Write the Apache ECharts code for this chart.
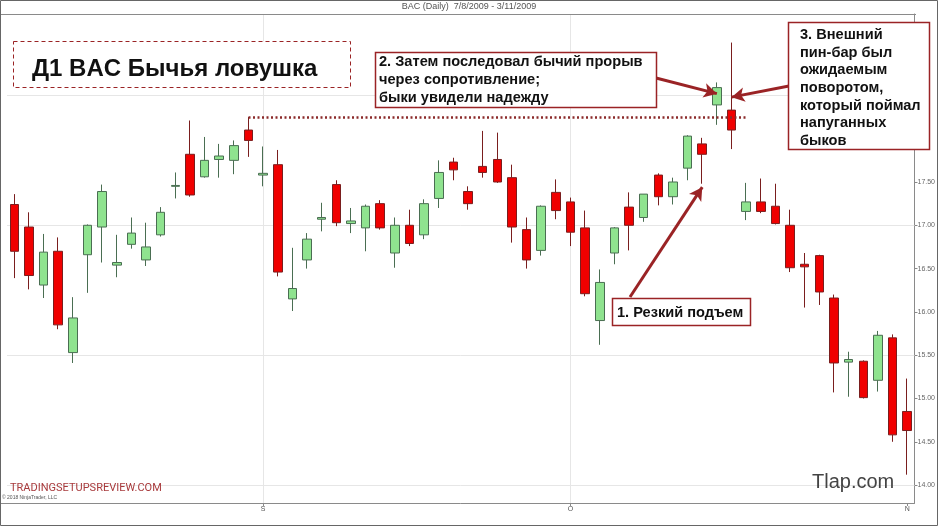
<!DOCTYPE html>
<html>
<head>
<meta charset="utf-8">
<script src="https://cdn.jsdelivr.net/npm/echarts@6/dist/echarts.min.js"></script>
<style>
html,body{margin:0;padding:0;background:#fff;}
#chart{width:938px;height:526px;}
</style>
</head>
<body>
<div id="chart"></div>
<script>
// ---- data ----
const openP  = [17.24,16.98,16.31,16.70,15.53,16.66,16.98,16.54,16.78,16.60,16.89,17.45,17.82,17.56,17.76,17.75,18.10,17.58,17.70,16.15,16.60,17.07,17.47,17.02,16.97,17.25,16.68,17.00,16.89,17.31,17.73,17.39,17.68,17.76,17.55,16.95,16.71,17.38,17.27,16.97,15.90,16.68,17.21,17.09,17.58,17.33,17.66,17.94,18.39,18.33,17.16,17.27,17.22,17.00,16.55,16.65,16.16,15.42,15.43,15.21,15.70,14.85];
const highP  = [17.36,17.15,16.90,16.86,16.17,17.01,17.47,16.89,17.09,17.03,17.21,17.61,18.21,18.02,17.94,17.98,18.25,17.91,17.87,16.74,16.91,17.26,17.52,17.20,17.24,17.29,17.09,17.18,17.30,17.75,17.78,17.45,18.09,18.07,17.70,17.09,17.23,17.53,17.32,17.17,16.49,16.98,17.38,17.36,17.60,17.55,18.04,18.01,18.65,19.11,17.49,17.54,17.48,17.18,16.68,16.66,16.20,15.54,15.44,15.78,15.74,15.23];
const lowP   = [16.39,16.26,16.16,15.80,15.41,16.22,16.57,16.40,16.73,16.53,16.87,17.31,17.33,17.55,17.55,17.59,17.79,17.45,16.41,16.01,16.50,16.93,16.99,16.91,16.70,16.95,16.51,16.76,16.84,17.20,17.52,17.18,17.55,17.49,16.80,16.50,16.65,17.07,16.76,16.18,15.62,16.55,16.71,17.04,17.23,17.24,17.52,17.48,18.16,17.88,17.06,17.14,17.01,16.46,16.05,16.08,15.07,15.02,15.00,15.08,14.50,14.12];
const closeP = [16.70,16.42,16.69,15.85,15.93,17.00,17.39,16.57,16.91,16.75,17.15,17.46,17.35,17.75,17.80,17.92,17.98,17.60,16.46,16.27,16.84,17.09,17.03,17.05,17.22,16.97,17.00,16.79,17.25,17.61,17.64,17.25,17.61,17.50,16.98,16.60,17.22,17.17,16.92,16.21,16.34,16.97,17.00,17.36,17.33,17.50,18.03,17.82,18.59,18.10,17.27,17.16,17.02,16.51,16.52,16.23,15.41,15.45,15.01,15.73,14.58,14.63];
const categories = openP.map((_, i) => String(i));
const monthLabels = {17: 'S', 38: 'O', 61: 'N'};
const yTicks = [14.0, 14.5, 15.0, 15.5, 16.0, 16.5, 17.0, 17.5];
const gridLevels = [14.0, 15.5, 17.0, 18.5];
const resistance = {from: 16, to: 50, price: 18.25};
const chartTitle = 'BAC (Daily)  7/8/2009 - 3/11/2009';
const mainTitle = 'Д1 BAC Бычья ловушка';
const note1 = '1. Резкий подъем';
const note2 = ['2. Затем последовал бычий прорыв', 'через сопротивление;', 'быки увидели надежду'];
const note3 = ['3. Внешний', 'пин-бар был', 'ожидаемым', 'поворотом,', 'который поймал', 'напуганных', 'быков'];

const candleData = openP.map((o, i) => [o, closeP[i], lowP[i], highP[i]]);
const lastClose = closeP[closeP.length - 1];
const DR = '#9a2325';
const NOTE_FONT = 'bold 14.6px "Liberation Sans", Arial, sans-serif';

const chart = echarts.init(document.getElementById('chart'), null, {renderer: 'canvas'});
const option = {
  animation: false,
  backgroundColor: '#fff',
  grid: {left: 7, right: 22, top: 14, bottom: 23, containLabel: false},
  xAxis: {
    type: 'category', data: categories, boundaryGap: true,
    axisLine: {show: true, lineStyle: {color: '#8a8a8a', width: 1}},
    axisTick: {show: true, alignWithLabel: true, length: 3, lineStyle: {color: '#8a8a8a'},
      interval: (i) => monthLabels[i] !== undefined},
    axisLabel: {show: true, fontSize: 7, color: '#555', margin: 3, fontFamily: 'Liberation Sans',
      interval: (i) => monthLabels[i] !== undefined,
      formatter: (v, i) => monthLabels[i] || ''},
    splitLine: {show: false}
  },
  yAxis: {
    type: 'value', position: 'right', min: 13.793, max: 19.44, scale: true,
    axisLine: {show: true, lineStyle: {color: '#8a8a8a', width: 1}},
    axisTick: {show: true, length: 3, customValues: yTicks, lineStyle: {color: '#8a8a8a'}},
    axisLabel: {show: true, customValues: yTicks, fontSize: 7, color: '#666', margin: 3,
      fontFamily: 'Liberation Sans', formatter: (v) => v.toFixed(2)},
    splitLine: {show: false}
  },
  series: [
    {
      type: 'line', data: [], silent: true, z: 1,
      markLine: {
        silent: true, z: 1, symbol: ['none', 'none'], animation: false,
        label: {show: false},
        lineStyle: {color: '#e6e6e6', width: 1, type: 'solid'},
        data: gridLevels.map(v => ({yAxis: v}))
          .concat(Object.keys(monthLabels).filter(k => +k < categories.length - 1).map(k => ({xAxis: +k})))
      }
    },
    {
      type: 'candlestick', data: candleData, z: 3, barWidth: 9,
      itemStyle: {color: '#8fe38f', color0: '#f00000', borderColor: '#4a6e52', borderColor0: '#7a1e1e', borderWidth: 1},
      markLine: {
        silent: true, z: 6, symbol: ['none', 'none'], animation: false,
        label: {show: false},
        data: [
          [
            {coord: [resistance.from, resistance.price], lineStyle: {color: '#8b2a2a', width: 2.5, type: [2, 2.5]}},
            {coord: [resistance.to, resistance.price]}
          ],
          [
            {x: 630, y: 297, symbol: 'none', lineStyle: {color: DR, width: 3, type: 'solid'}},
            {coord: [47, 17.44], symbol: 'arrow', symbolSize: [11, 13]}
          ],
          [
            {x: 656, y: 78, symbol: 'none', lineStyle: {color: DR, width: 3, type: 'solid'}},
            {coord: [48, 18.52], symbol: 'arrow', symbolSize: [11, 13]}
          ],
          [
            {x: 789, y: 86, symbol: 'none', lineStyle: {color: DR, width: 3, type: 'solid'}},
            {coord: [49, 18.48], symbol: 'arrow', symbolSize: [11, 13]}
          ],
          {
            yAxis: lastClose, lineStyle: {opacity: 0},
            label: {show: true, position: 'end', distance: 2, formatter: lastClose.toFixed(2),
              fontSize: 7, color: '#222', backgroundColor: '#8c8c8c', padding: [1, 2, 1, 3], borderRadius: 2,
              fontFamily: 'Liberation Sans'}
          }
        ]
      }
    }
  ],
  graphic: [
    {type: 'rect', z: 200, silent: true, shape: {x: 0.5, y: 0.5, width: 937, height: 525},
      style: {fill: 'none', stroke: '#666', lineWidth: 1}},
    {type: 'line', z: 5, silent: true, shape: {x1: 0, y1: 14.5, x2: 916, y2: 14.5},
      style: {stroke: '#8a8a8a', lineWidth: 1}},
    {type: 'line', z: 5, silent: true, shape: {x1: 0, y1: 503.5, x2: 8, y2: 503.5},
      style: {stroke: '#8a8a8a', lineWidth: 1}},
    {type: 'text', z: 10, left: 'center', top: 2, silent: true,
      style: {text: chartTitle, fontSize: 9, fill: '#555', fontFamily: 'Liberation Sans'}},
    // title box
    {type: 'rect', z: 100, silent: true, shape: {x: 13.5, y: 41.5, width: 337, height: 46},
      style: {fill: '#fff', stroke: DR, lineWidth: 1, lineDash: [4, 3]}},
    {type: 'text', z: 101, silent: true, x: 32, y: 69,
      style: {text: mainTitle, font: 'bold 24px "Liberation Sans", Arial, sans-serif', fill: '#111', textVerticalAlign: 'middle'}},
    // note 1
    {type: 'rect', z: 100, silent: true, shape: {x: 612.5, y: 298.5, width: 138, height: 27},
      style: {fill: '#fff', stroke: DR, lineWidth: 1.5}},
    {type: 'text', z: 101, silent: true, x: 617, y: 312.5,
      style: {text: note1, font: NOTE_FONT, fill: '#111', textVerticalAlign: 'middle'}},
    // note 2
    {type: 'rect', z: 100, silent: true, shape: {x: 375.5, y: 52.5, width: 281, height: 55},
      style: {fill: '#fff', stroke: DR, lineWidth: 1.5}},
    {type: 'text', z: 101, silent: true, x: 379, y: 53,
      style: {text: note2.join('\n'), font: NOTE_FONT, lineHeight: 18, fill: '#111', textVerticalAlign: 'top'}},
    // note 3
    {type: 'rect', z: 100, silent: true, shape: {x: 788.5, y: 22.5, width: 141, height: 127},
      style: {fill: '#fff', stroke: DR, lineWidth: 1.5}},
    {type: 'text', z: 101, silent: true, x: 800, y: 26,
      style: {text: note3.join('\n'), font: NOTE_FONT, lineHeight: 17.7, fill: '#111', textVerticalAlign: 'top'}},
    // watermarks
    {type: 'text', z: 50, silent: true, x: 10, y: 488,
      style: {text: 'TRADINGSETUPSREVIEW.COM', font: '11px Roboto, "Liberation Sans", sans-serif', fill: '#a83a3c', textVerticalAlign: 'middle'}},
    {type: 'text', z: 50, silent: true, x: 2, y: 498,
      style: {text: '© 2018 NinjaTrader, LLC', font: '5px "Liberation Sans", sans-serif', fill: '#555', textVerticalAlign: 'middle'}},
    {type: 'text', z: 50, silent: true, x: 812, y: 482,
      style: {text: 'Tlap.com', font: '20px "Liberation Sans", Arial, sans-serif', fill: '#444', textVerticalAlign: 'middle'}}
  ]
};
chart.setOption(option);
</script>
</body>
</html>
